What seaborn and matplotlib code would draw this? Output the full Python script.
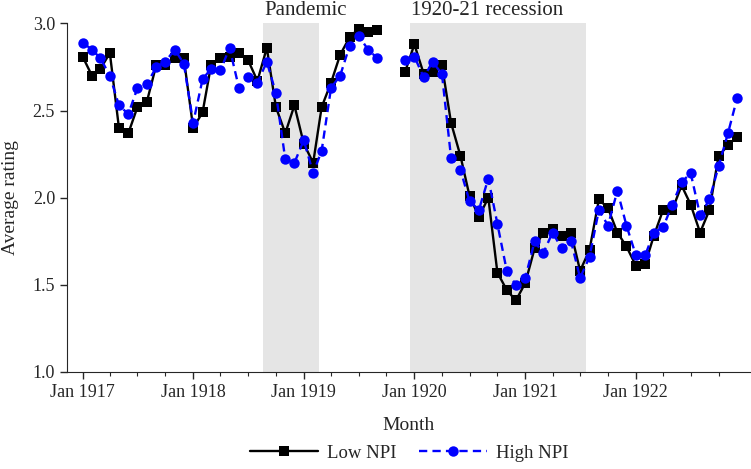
import numpy as np
import pandas as pd
import matplotlib
matplotlib.use("Agg")
import matplotlib.pyplot as plt
import matplotlib.dates as mdates
import matplotlib.ticker as mticker
import seaborn as sns

# monthly average ratings, Jan 1917 - Dec 1922 (Oct/Nov 1919 missing)
months = pd.date_range("1917-01-01", periods=72, freq="MS")
nan = np.nan
low_npi = [
    2.81, 2.70, 2.74, 2.83, 2.40, 2.37, 2.52, 2.55, 2.76, 2.76, 2.80, 2.80,
    2.40, 2.49, 2.76, 2.80, 2.81, 2.83, 2.79, 2.67, 2.86, 2.52, 2.37, 2.53,
    2.31, 2.20, 2.52, 2.66, 2.82, 2.92, 2.97, 2.95, 2.96, nan, nan, 2.72,
    2.88, 2.71, 2.72, 2.76, 2.43, 2.24, 2.01, 1.89, 2.00, 1.57, 1.47, 1.41,
    1.51, 1.71, 1.80, 1.82, 1.78, 1.80, 1.58, 1.70, 1.99, 1.94, 1.80, 1.72,
    1.61, 1.62, 1.78, 1.93, 1.93, 2.07, 1.96, 1.80, 1.93, 2.24, 2.30, 2.35,
]
high_npi = [
    2.89, 2.85, 2.80, 2.70, 2.53, 2.48, 2.63, 2.65, 2.75, 2.78, 2.85, 2.77,
    2.43, 2.68, 2.74, 2.73, 2.86, 2.63, 2.69, 2.66, 2.78, 2.60, 2.22, 2.20,
    2.33, 2.14, 2.27, 2.63, 2.70, 2.87, 2.93, 2.85, 2.80, nan, nan, 2.79,
    2.81, 2.69, 2.78, 2.71, 2.23, 2.16, 1.98, 1.93, 2.11, 1.85, 1.58, 1.50,
    1.54, 1.75, 1.68, 1.80, 1.71, 1.75, 1.54, 1.66, 1.93, 1.84, 2.04, 1.84,
    1.67, 1.67, 1.80, 1.83, 1.96, 2.09, 2.14, 1.90, 1.99, 2.18, 2.37, 2.57,
]
groups = ["Low NPI", "High NPI"]
year_ticks = pd.date_range("1917-01-01", "1922-01-01", freq="YS")
quarter_ticks = pd.date_range("1917-01-01", "1922-10-01", freq="QS")

# shaded periods
pandemic = ("1918-08-18", "1919-02-19")
recession = ("1919-12-17", "1921-07-20")

# long-form table, split into segments at the missing months
rows = []
for g, vals in zip(groups, [low_npi, high_npi]):
    seg = 0
    for d, v in zip(months, vals):
        if np.isnan(v):
            seg = 1
            continue
        rows.append({"Month": d, "rating": v, "group": g, "seg": seg})
df = pd.DataFrame(rows)

sns.set_style("ticks")
plt.rcParams["font.family"] = ["Liberation Serif", "DejaVu Serif"]

fig = plt.figure(figsize=(7.51, 4.69), dpi=100)
ax = fig.add_axes([0.089, 0.207, 0.911, 0.743])

ax.axvspan(pd.Timestamp(pandemic[0]), pd.Timestamp(pandemic[1]),
           color="#e5e5e5", lw=0, zorder=0)
ax.axvspan(pd.Timestamp(recession[0]), pd.Timestamp(recession[1]),
           color="#e5e5e5", lw=0, zorder=0)

sns.lineplot(data=df, x="Month", y="rating", hue="group", style="group",
             units="seg", estimator=None, hue_order=groups, style_order=groups,
             palette={"Low NPI": "black", "High NPI": "#0000ff"},
             markers={"Low NPI": "s", "High NPI": "o"},
             dashes={"Low NPI": "", "High NPI": (3.5, 2.2)},
             lw=1.7, markersize=7.5, markeredgewidth=0, ax=ax)

for ln in ax.lines:
    ln.set_clip_on(False)

ax.text(pd.Timestamp(pandemic[0]) + pd.Timedelta(days=5), 3.02, "Pandemic",
        fontsize=15, ha="left", va="bottom")
ax.text(pd.Timestamp(recession[0]) + pd.Timedelta(days=5), 3.02, "1920-21 recession",
        fontsize=15, ha="left", va="bottom")

ax.set_xlim(pd.Timestamp("1916-11-10"), pd.Timestamp("1923-01-16"))
ax.set_ylim(1.0, 3.0)
ax.set_yticks([1.0, 1.5, 2.0, 2.5, 3.0])
ax.yaxis.set_major_formatter(mticker.FormatStrFormatter("%.1f"))
ax.xaxis.set_major_locator(mticker.FixedLocator(mdates.date2num(year_ticks)))
ax.xaxis.set_major_formatter(mdates.DateFormatter("%b %Y"))
ax.xaxis.set_minor_locator(mticker.FixedLocator(mdates.date2num(quarter_ticks)))
ax.tick_params(axis="both", which="major", labelsize=13, length=5, width=1)
ax.tick_params(axis="x", which="minor", length=3, width=0.8)
ax.set_xlabel("Month", fontsize=14, labelpad=12)
ax.set_ylabel("Average rating", fontsize=14, labelpad=10)
sns.despine(ax=ax)

handles, labels = ax.get_legend_handles_labels()
ax.legend(handles, labels, loc="center", bbox_to_anchor=(0.545, 0.034),
          bbox_transform=fig.transFigure, ncol=2, frameon=False,
          fontsize=13.5, handlelength=3.6, handletextpad=0.5,
          columnspacing=1.2)

fig.savefig("out.png", dpi=100)
